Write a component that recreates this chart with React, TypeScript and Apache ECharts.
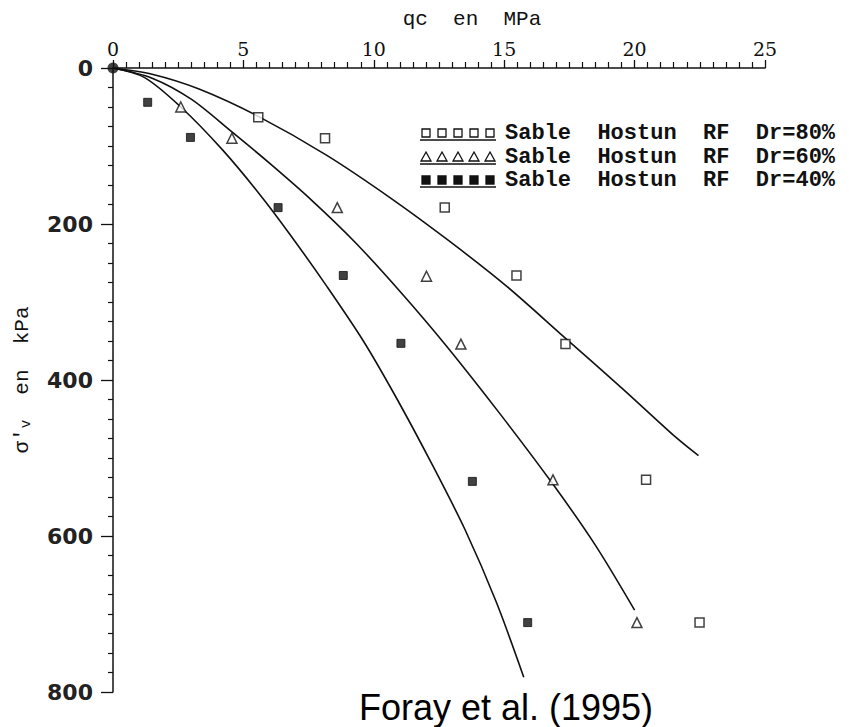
import React, { useEffect, useRef } from "react";
import * as echarts from "echarts";

// Fitted curves (qc in MPa, sigma'v in kPa)
const curveDr80: number[][] = [
  [0, 0], [1.5, 8], [3.3, 27], [5.57, 62], [8.2, 112], [10.7, 168], [12.9, 222],
  [15.1, 280], [17.3, 345], [19.5, 410], [21.6, 474], [22.45, 497],
];
const curveDr60: number[][] = [
  [0, 0], [1.5, 13], [3, 40], [4.56, 82], [6, 122], [7.6, 169], [9.3, 224],
  [11.1, 290], [12.8, 357], [14.9, 446], [16.9, 535], [18.5, 612], [20.0, 695],
];
const curveDr40: number[][] = [
  [0, 0], [1.2, 12], [2.6, 50], [4.2, 105], [5.65, 163], [6.8, 214], [8.2, 280],
  [9.6, 350], [10.9, 425], [12.2, 506], [13.5, 592], [14.7, 685], [15.75, 781],
];

// Measured points
const pointsDr80: number[][] = [
  [5.57, 63], [8.13, 90], [12.72, 179], [15.47, 266], [17.35, 354], [20.44, 528], [22.49, 711],
];
const pointsDr60: number[][] = [
  [2.6, 50], [4.56, 90], [8.6, 179], [12.02, 267], [13.34, 354], [16.87, 528], [20.09, 711],
];
const pointsDr40: number[][] = [
  [1.33, 44], [2.97, 89], [6.33, 179], [8.83, 266], [11.04, 353], [13.78, 530], [15.9, 711],
];
const originPoint: number[][] = [[0, 0]];

const legendLabels = [
  "Sable  Hostun  RF  Dr=80%",
  "Sable  Hostun  RF  Dr=60%",
  "Sable  Hostun  RF  Dr=40%",
];
const xAxisName = "qc  en  MPa";
const caption = "Foray et al. (1995)";

export default function App() {
  const ref = useRef<HTMLDivElement>(null);

  useEffect(() => {
    if (!ref.current) return;
    const chart = echarts.init(ref.current, undefined, { renderer: "svg" });

    const rowsY = [133, 157, 180];
    const kinds = ["square", "triangle", "filled"];
    const legendChildren: any[] = [];
    rowsY.forEach((cy, r) => {
      for (let i = 0; i < 5; i++) {
        const cx = 426 + 16 * i;
        if (kinds[r] === "triangle") {
          legendChildren.push({
            type: "polygon",
            shape: { points: [[cx, cy - 5], [cx + 5, cy + 4], [cx - 5, cy + 4]] },
            style: { fill: "#fff", stroke: "#111", lineWidth: 1.3 },
          });
        } else {
          legendChildren.push({
            type: "rect",
            shape: { x: cx - 4, y: cy - 4, width: 8, height: 8 },
            style: {
              fill: kinds[r] === "filled" ? "#111" : "#fff",
              stroke: "#111",
              lineWidth: 1.3,
            },
          });
        }
      }
      legendChildren.push({
        type: "line",
        shape: { x1: 420, y1: cy + 7, x2: 496, y2: cy + 7 },
        style: { stroke: "#111", lineWidth: 1.3 },
      });
      legendChildren.push({
        type: "text",
        x: 505,
        y: cy,
        style: {
          text: legendLabels[r],
          fontFamily: "Liberation Mono",
          fontWeight: "bold",
          fontSize: 22,
          lineHeight: 22,
          fill: "#111",
          textAlign: "left",
          textVerticalAlign: "middle",
          align: "left",
          verticalAlign: "middle",
        },
      });
    });

    const lineStyle = { color: "#111", width: 1.6 };

    chart.setOption({
      animation: false,
      backgroundColor: "#fff",
      grid: { left: 113, right: 84, top: 68, bottom: 35, containLabel: false },
      xAxis: {
        type: "value",
        position: "top",
        min: 0,
        max: 25,
        interval: 5,
        axisLine: { show: true, lineStyle: { color: "#111", width: 1.5 } },
        axisTick: { show: true, length: 8, lineStyle: { color: "#111", width: 1.3 } },
        minorTick: { show: true, splitNumber: 10, length: 6, lineStyle: { color: "#111", width: 1.2 } },
        splitLine: { show: false },
        minorSplitLine: { show: false },
        axisLabel: { fontFamily: "DejaVu Serif", fontSize: 19, color: "#111", margin: 10 },
        name: xAxisName,
        nameLocation: "middle",
        nameGap: 38,
        nameTextStyle: {
          fontFamily: "Liberation Mono",
          fontSize: 21,
          color: "#111",
          padding: [0, 0, 0, 66],
        },
      },
      yAxis: {
        type: "value",
        inverse: true,
        min: 0,
        max: 800,
        interval: 200,
        axisLine: { show: true, lineStyle: { color: "#111", width: 1.5 } },
        axisTick: { show: true, length: 12, lineStyle: { color: "#111", width: 1.3 } },
        minorTick: { show: true, splitNumber: 8, length: 5, lineStyle: { color: "#111", width: 1.2 } },
        splitLine: { show: false },
        minorSplitLine: { show: false },
        axisLabel: {
          fontFamily: "DejaVu Sans",
          fontWeight: "bold",
          fontSize: 22,
          color: "#222",
          margin: 20,
        },
        name: "σ'{s|v}  en  kPa",
        nameLocation: "middle",
        nameGap: 80,
        nameRotate: 90,
        nameTextStyle: {
          fontFamily: "Liberation Mono",
          fontSize: 21,
          color: "#111",
          rich: {
            s: { fontFamily: "Liberation Mono", fontSize: 14, color: "#111", verticalAlign: "bottom", padding: [8, 0, 0, 0] },
          },
        },
      },
      graphic: [
        ...legendChildren,
        {
          type: "text",
          x: 506,
          y: 707,
          style: {
            text: caption,
            fontFamily: "Liberation Sans",
            fontSize: 36,
            fill: "#000",
            textAlign: "center",
            textVerticalAlign: "middle",
            align: "center",
            verticalAlign: "middle",
          },
        },
      ],
      series: [
        { name: "curve80", type: "line", data: curveDr80, smooth: 0.3, showSymbol: false, lineStyle, z: 2 },
        { name: "curve60", type: "line", data: curveDr60, smooth: 0.3, showSymbol: false, lineStyle, z: 2 },
        { name: "curve40", type: "line", data: curveDr40, smooth: 0.3, showSymbol: false, lineStyle, z: 2 },
        {
          name: legendLabels[0],
          type: "scatter",
          data: pointsDr80,
          symbol: "rect",
          symbolSize: 9,
          itemStyle: { color: "#fff", borderColor: "#111", borderWidth: 1.5 },
          z: 3,
        },
        {
          name: legendLabels[1],
          type: "scatter",
          data: pointsDr60,
          symbol: "triangle",
          symbolSize: 10,
          itemStyle: { color: "#fff", borderColor: "#111", borderWidth: 1.5 },
          z: 3,
        },
        {
          name: legendLabels[2],
          type: "scatter",
          data: pointsDr40,
          symbol: "rect",
          symbolSize: 8,
          itemStyle: { color: "#111", borderColor: "#111", borderWidth: 1 },
          z: 3,
        },
        {
          name: "origin",
          type: "scatter",
          data: originPoint,
          symbol: "circle",
          symbolSize: 11,
          itemStyle: { color: "#111" },
          z: 4,
        },
      ],
    });

    return () => chart.dispose();
  }, []);

  return (
    <div
      ref={ref}
      style={{ position: "fixed", left: 0, top: 0, width: 849, height: 727, background: "#fff" }}
    />
  );
}
